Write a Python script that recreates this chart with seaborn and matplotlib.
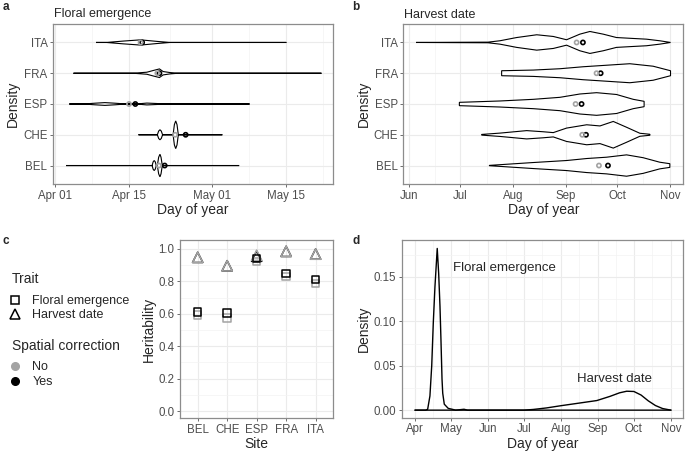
import matplotlib
matplotlib.use("Agg")
import matplotlib.pyplot as plt
import seaborn as sns
from matplotlib.lines import Line2D

sites = ["BEL", "CHE", "ESP", "FRA", "ITA"]
site_pos = [0, 1, 2, 3, 4]

# a: floral emergence violins, outline read as (day of year, half width)
flo_bel_day = [93.1, 109.5, 109.7, 109.9, 110.1, 110.3, 110.5, 110.75, 111.0, 111.2, 111.45, 126.1]
flo_bel_w = [0, 0, 0.12, 0.163, 0.12, 0, 0, 0.27, 0.367, 0.27, 0, 0]
flo_che_day = [106.9, 110.5, 110.75, 111.0, 111.25, 111.5, 113.5, 113.75, 114.0, 114.25, 114.5, 122.9]
flo_che_w = [0, 0, 0.12, 0.163, 0.12, 0, 0, 0.33, 0.45, 0.33, 0, 0]
flo_esp_day = [93.7, 96.5, 98.5, 100.5, 102.5, 104.5, 106.5, 108.5, 110.5, 112.0, 128.1]
flo_esp_w = [0, 0, 0.025, 0.045, 0.025, 0, 0, 0.03, 0.015, 0, 0]
flo_fra_day = [94.5, 105.9, 108.5, 109.7, 110.9, 111.6, 112.9, 114.5, 141.8]
flo_fra_w = [0, 0, 0.033, 0.088, 0.14, 0.055, 0.022, 0, 0]
flo_ita_day = [98.8, 100.8, 104.0, 107.3, 110.4, 112.9, 135.1]
flo_ita_w = [0, 0, 0.045, 0.085, 0.035, 0, 0]

flo_mean_no = [110.8, 113.9, 105.1, 110.5, 107.3]
flo_mean_yes = [111.9, 115.9, 106.3, 110.9, 107.6]

# b: harvest date violins
har_bel_day = [199.1, 224.9, 244.4, 256.2, 267.9, 279.6, 289.3, 299.1, 305.0]
har_bel_w = [0.005, 0.098, 0.163, 0.228, 0.271, 0.347, 0.255, 0.108, 0.06]
har_che_day = [194.6, 205.3, 221.0, 230.7, 236.6, 244.4, 256.2, 264.0, 271.8, 279.6, 287.4, 293.3]
har_che_w = [0.011, 0.054, 0.135, 0.098, 0.07, 0.217, 0.325, 0.287, 0.433, 0.244, 0.049, 0.016]
har_esp_day = [181.5, 205.3, 224.9, 240.5, 252.2, 262.0, 273.7, 283.5, 289.9]
har_esp_w = [0.054, 0.098, 0.152, 0.217, 0.325, 0.368, 0.309, 0.152, 0.087]
har_fra_day = [206.3, 224.9, 240.5, 254.2, 267.9, 281.5, 295.2, 305.4]
har_fra_w = [0.081, 0.103, 0.146, 0.211, 0.26, 0.309, 0.228, 0.081]
har_ita_day = [156.1, 198.3, 205.3, 215.1, 226.9, 236.6, 244.4, 252.2, 258.1, 265.9, 273.7, 283.5, 291.3, 299.1, 305.4]
har_ita_w = [0, 0.01, 0.055, 0.16, 0.25, 0.195, 0.088, 0.27, 0.357, 0.27, 0.16, 0.13, 0.107, 0.055, 0]

har_mean_no = [263.4, 253.6, 249.7, 262.0, 250.3]
har_mean_yes = [268.7, 255.8, 253.2, 264.4, 254.0]

# c: heritability
her_flo_no = [0.594, 0.574, 0.922, 0.831, 0.786]
her_flo_yes = [0.611, 0.603, 0.942, 0.848, 0.811]
her_har_no = [0.948, 0.896, 0.961, 0.985, 0.968]
her_har_yes = [0.948, 0.896, 0.955, 0.985, 0.968]

# d: density of the two traits
dens_flo_day = [91, 100, 101.6, 103.5, 105, 106.3, 107.7, 109.6, 110.8, 111.9, 112.7, 113.6, 114.2, 115.5, 118.8, 122, 125, 132, 135, 305]
dens_flo = [0, 0, 0.001, 0.016, 0.05, 0.098, 0.139, 0.182, 0.154, 0.117, 0.08, 0.035, 0.019, 0.0067, 0.002, 0.001, 0, 0.001, 0, 0]
dens_har_day = [91, 182, 190, 201, 213, 226, 243, 254, 262, 268, 274, 280, 286, 292, 298, 305]
dens_har = [0, 0, 0.0008, 0.0025, 0.005, 0.0075, 0.0108, 0.0155, 0.0195, 0.0213, 0.021, 0.017, 0.0105, 0.0052, 0.0018, 0]

GREY = "#A3A3A3"
W, H = 685, 451

sns.set_theme(style="whitegrid")
plt.rcParams["font.family"] = ["Liberation Sans", "DejaVu Sans"]

fig = plt.figure(figsize=(W / 100, H / 100), dpi=100)


def add_ax(left, top, right, bottom):
    return fig.add_axes([left / W, 1 - bottom / H, (right - left) / W, (bottom - top) / H])


def style(ax, xmajor, xlabels, xminor, ymajor, ylabels, yminor):
    ax.set_facecolor("white")
    ax.set_xticks(xmajor)
    ax.set_xticklabels(xlabels)
    ax.set_xticks(xminor, minor=True)
    ax.set_yticks(ymajor)
    ax.set_yticklabels(ylabels)
    ax.set_yticks(yminor, minor=True)
    ax.grid(which="major", color="#EBEBEB", lw=0.8)
    ax.grid(which="minor", color="#F3F3F3", lw=0.5)
    ax.set_axisbelow(True)
    ax.tick_params(which="major", length=2.5, width=0.6, color="#555555",
                   labelcolor="#4D4D4D", labelsize=8.3, pad=1.5,
                   bottom=True, left=True)
    ax.tick_params(which="minor", length=0)
    for s in ax.spines.values():
        s.set_color("#8C8C8C")
        s.set_linewidth(0.9)


def violin(ax, pos, days, half):
    xs = list(days) + list(days[::-1])
    ys = [pos + h for h in half] + [pos - h for h in half[::-1]]
    ax.fill(xs, ys, facecolor="white", edgecolor="black", lw=0.8, zorder=3)


def means(ax, no_vals, yes_vals):
    sns.scatterplot(x=yes_vals, y=site_pos, ax=ax, marker="o", s=9,
                    facecolor="none", edgecolor="black", linewidth=1.2, zorder=4)
    sns.scatterplot(x=no_vals, y=site_pos, ax=ax, marker="o", s=9,
                    facecolor="none", edgecolor=GREY, linewidth=1.2, zorder=4)


# ---- panel a
ax_a = add_ax(53, 24, 333, 184)
style(ax_a, [91, 105, 121, 135], ["Apr 01", "Apr 15", "May 01", "May 15"],
      [98, 113, 128, 142], site_pos, sites, [])
for p, d, w in zip(site_pos,
                   [flo_bel_day, flo_che_day, flo_esp_day, flo_fra_day, flo_ita_day],
                   [flo_bel_w, flo_che_w, flo_esp_w, flo_fra_w, flo_ita_w]):
    violin(ax_a, p, d, w)
means(ax_a, flo_mean_no, flo_mean_yes)
ax_a.set_xlim(90.6, 144.0)
ax_a.set_ylim(-0.6, 4.6)
ax_a.set_xlabel("Day of year", fontsize=10, labelpad=1)
ax_a.set_ylabel("Density", fontsize=10, labelpad=2)

# ---- panel b
ax_b = add_ax(403.3, 24, 683.3, 184)
style(ax_b, [152, 182, 213, 244, 274, 305], ["Jun", "Jul", "Aug", "Sep", "Oct", "Nov"],
      [167, 197.5, 228.5, 259, 289.5], site_pos, sites, [])
for p, d, w in zip(site_pos,
                   [har_bel_day, har_che_day, har_esp_day, har_fra_day, har_ita_day],
                   [har_bel_w, har_che_w, har_esp_w, har_fra_w, har_ita_w]):
    violin(ax_b, p, d, w)
means(ax_b, har_mean_no, har_mean_yes)
ax_b.set_xlim(148.6, 312.9)
ax_b.set_ylim(-0.6, 4.6)
ax_b.set_xlabel("Day of year", fontsize=10, labelpad=1)
ax_b.set_ylabel("Density", fontsize=10, labelpad=2)

# ---- panel c
ax_c = add_ax(180, 240, 333.3, 418.3)
style(ax_c, site_pos, sites, [], [0, 0.2, 0.4, 0.6, 0.8, 1.0],
      ["0.0", "0.2", "0.4", "0.6", "0.8", "1.0"], [0.1, 0.3, 0.5, 0.7, 0.9])
sns.scatterplot(x=site_pos, y=her_har_yes, ax=ax_c, marker="^", s=55,
                facecolor="none", edgecolor="black", linewidth=1.1, zorder=3)
sns.scatterplot(x=site_pos, y=her_har_no, ax=ax_c, marker="^", s=55,
                facecolor="none", edgecolor=GREY, linewidth=1.1, zorder=3)
sns.scatterplot(x=site_pos, y=her_flo_no, ax=ax_c, marker="s", s=30,
                facecolor="none", edgecolor=GREY, linewidth=1.1, zorder=3)
sns.scatterplot(x=site_pos, y=her_flo_yes, ax=ax_c, marker="s", s=30,
                facecolor="none", edgecolor="black", linewidth=1.1, zorder=3)
ax_c.set_xlim(-0.6, 4.6)
ax_c.set_ylim(-0.045, 1.055)
ax_c.set_xlabel("Site", fontsize=10, labelpad=1)
ax_c.set_ylabel("Heritability", fontsize=10, labelpad=2)

# ---- panel d
ax_d = add_ax(401.7, 240, 683.3, 417.7)
style(ax_d, [91, 121, 152, 182, 213, 244, 274, 305],
      ["Apr", "May", "Jun", "Jul", "Aug", "Sep", "Oct", "Nov"],
      [106, 136.5, 167, 197.5, 228.5, 259, 289.5],
      [0, 0.05, 0.10, 0.15], ["0.00", "0.05", "0.10", "0.15"],
      [0.025, 0.075, 0.125, 0.175])
sns.lineplot(x=dens_har_day, y=dens_har, ax=ax_d, color="black", lw=1.0)
sns.lineplot(x=dens_flo_day, y=dens_flo, ax=ax_d, color="black", lw=1.0)
ax_d.text(123, 0.16, "Floral emergence", fontsize=9.5, ha="left", va="center")
ax_d.text(258, 0.0348, "Harvest date", fontsize=9.5, ha="center", va="center")
ax_d.set_xlim(79.9, 315.3)
ax_d.set_ylim(-0.0085, 0.1915)
ax_d.set_xlabel("Day of year", fontsize=10, labelpad=1)
ax_d.set_ylabel("Density", fontsize=10, labelpad=2)

# ---- titles and panel letters
fig.text(54 / W, 1 - 17.5 / H, "Floral emergence", fontsize=9, va="baseline")
fig.text(404 / W, 1 - 17.5 / H, "Harvest date", fontsize=9, va="baseline")
for x, y, t in [(2.5, 9.5, "a"), (352.5, 10.5, "b"), (2.5, 244.5, "c"), (352.5, 244.5, "d")]:
    fig.text(x / W, 1 - y / H, t, fontsize=8.5, weight="bold", va="baseline")

# ---- legends for panel c
fig.text(12 / W, 1 - 283 / H, "Trait", fontsize=10, va="baseline")
fig.text(12 / W, 1 - 350 / H, "Spatial correction", fontsize=10, va="baseline")
trait_h = [Line2D([], [], ls="", marker="s", ms=5.5, mfc="none", mec="black", mew=1.1),
           Line2D([], [], ls="", marker="^", ms=7, mfc="none", mec="black", mew=1.1)]
fig.legend(trait_h, ["Floral emergence", "Harvest date"],
           loc="upper left", bbox_to_anchor=(11 / W, 1 - 295 / H), frameon=False,
           fontsize=9, handlelength=0.6, handletextpad=1.1, labelspacing=0.2,
           borderpad=0, borderaxespad=0)
corr_h = [Line2D([], [], ls="", marker="o", ms=5.5, mfc=GREY, mec=GREY),
          Line2D([], [], ls="", marker="o", ms=5.5, mfc="black", mec="black")]
fig.legend(corr_h, ["No", "Yes"],
           loc="upper left", bbox_to_anchor=(11 / W, 1 - 361.5 / H), frameon=False,
           fontsize=9, handlelength=0.6, handletextpad=1.1, labelspacing=0.2,
           borderpad=0, borderaxespad=0)

fig.savefig("out.png", dpi=100)
